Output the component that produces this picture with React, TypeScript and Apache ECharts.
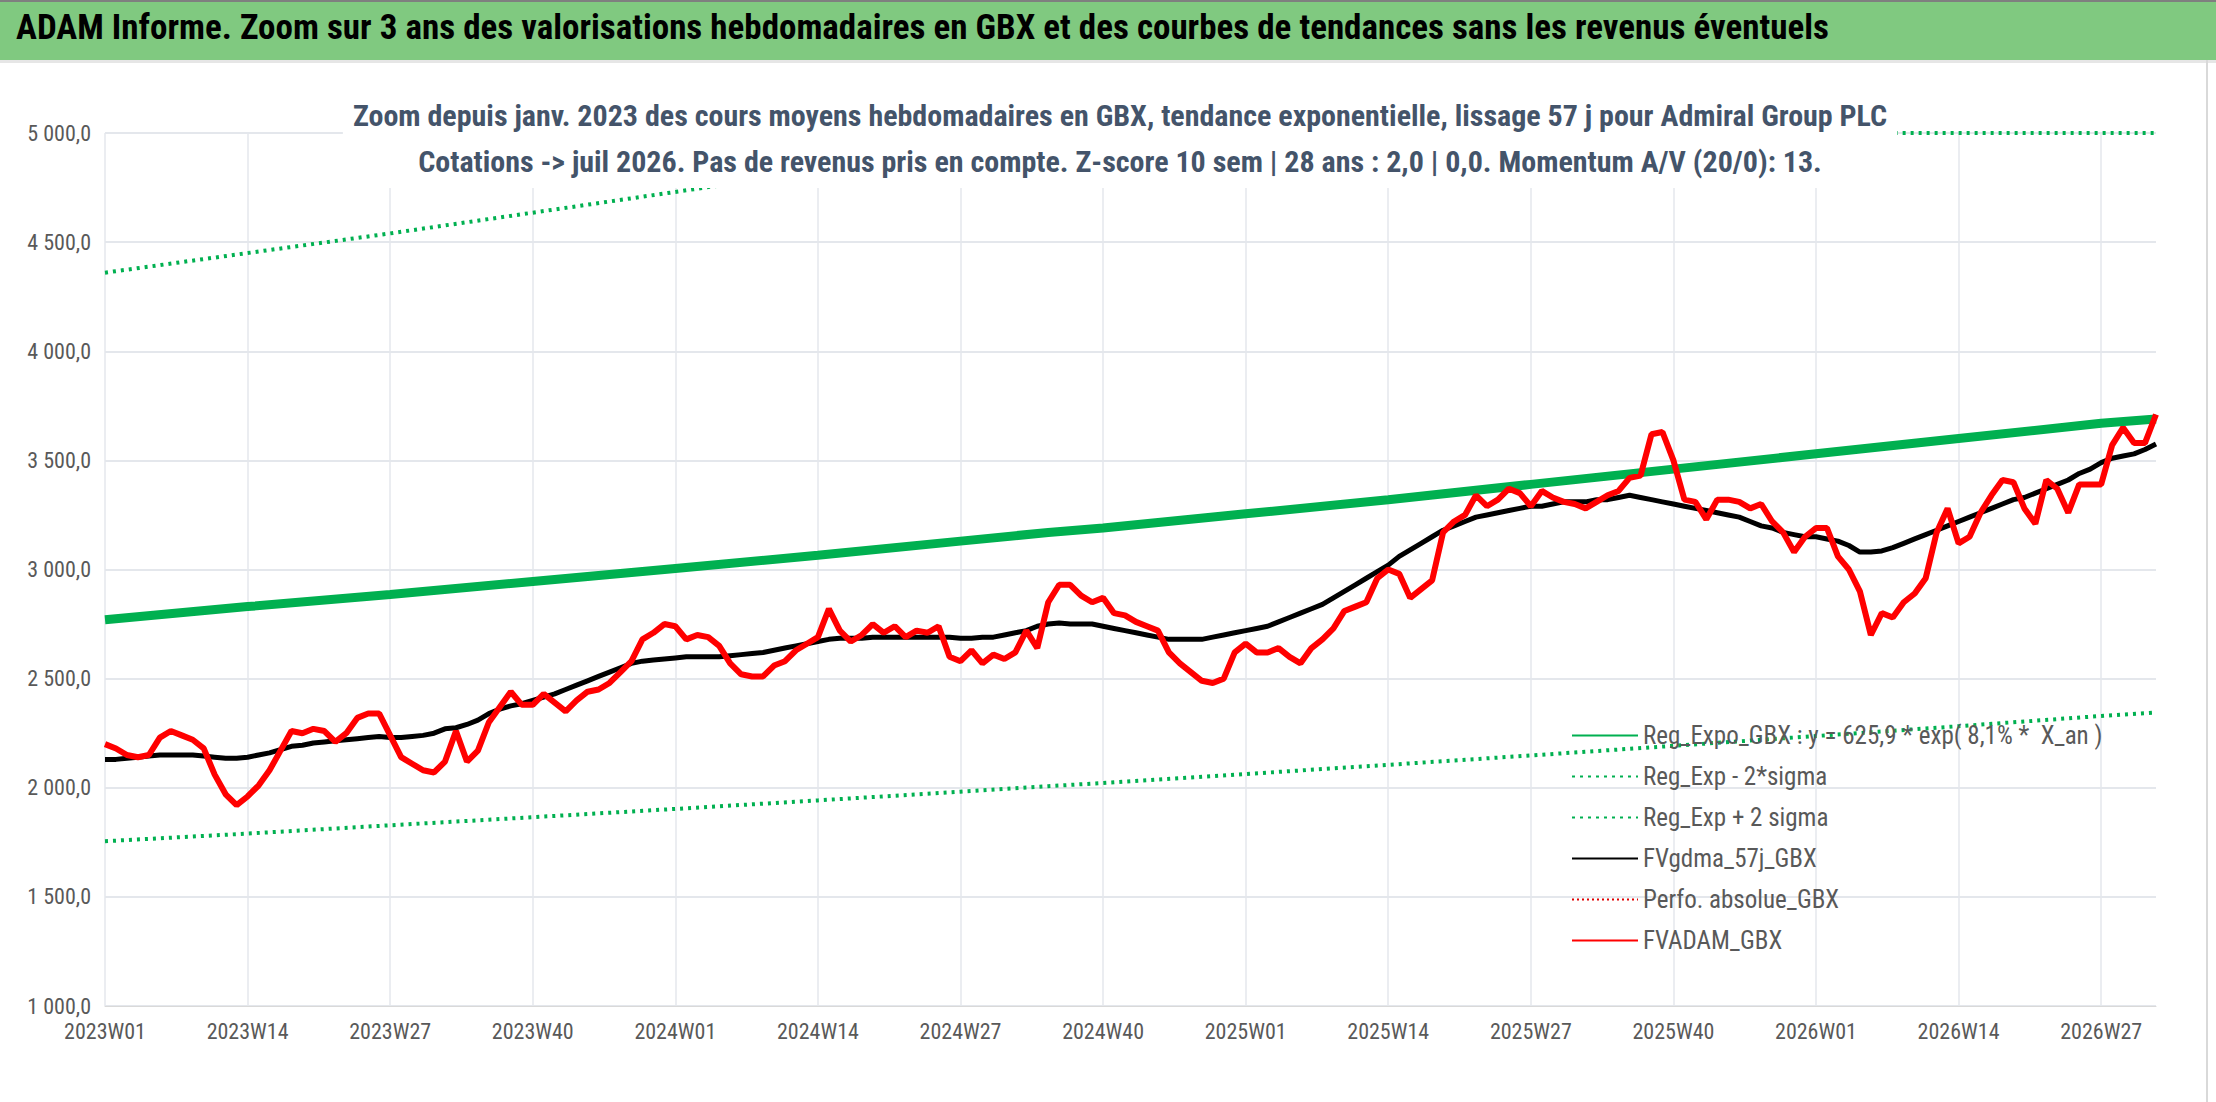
import React, { useEffect, useRef } from "react";
import * as echarts from "echarts";

const FONT = '"Liberation Sans Narrow", "Roboto Condensed", "Liberation Sans", sans-serif';

// weekly categories 2023W01 .. 2026W32
const weeks: string[] = [];
for (const [yr, n] of [[2023, 52], [2024, 52], [2025, 52], [2026, 32]] as const) {
  for (let w = 1; w <= n; w++) weeks.push(`${yr}W${String(w).padStart(2, "0")}`);
}

const adam = [
  2200, 2180, 2150, 2140, 2150, 2230, 2260, 2240, 2220, 2180,
  2060, 1970, 1920, 1960, 2010, 2080, 2170, 2260, 2250, 2270,
  2260, 2210, 2250, 2320, 2340, 2340, 2240, 2140, 2110, 2080,
  2070, 2120, 2260, 2120, 2170, 2300, 2370, 2440, 2380, 2380,
  2430, 2390, 2350, 2400, 2440, 2450, 2480, 2530, 2580, 2680,
  2710, 2750, 2740, 2680, 2700, 2690, 2650, 2570, 2520, 2510,
  2510, 2560, 2580, 2630, 2660, 2690, 2820, 2720, 2670, 2700,
  2750, 2710, 2740, 2690, 2720, 2710, 2740, 2600, 2580, 2630,
  2570, 2610, 2590, 2620, 2720, 2640, 2850, 2930, 2930, 2880,
  2850, 2870, 2800, 2790, 2760, 2740, 2720, 2620, 2570, 2530,
  2490, 2480, 2500, 2620, 2660, 2620, 2620, 2640, 2600, 2570,
  2640, 2680, 2730, 2810, 2830, 2850, 2960, 3000, 2980, 2870,
  2910, 2950, 3170, 3220, 3250, 3340, 3290, 3320, 3370, 3350,
  3290, 3360, 3330, 3310, 3300, 3280, 3310, 3340, 3360, 3420,
  3430, 3620, 3630, 3500, 3320, 3310, 3230, 3320, 3320, 3310,
  3280, 3300, 3220, 3170, 3080, 3150, 3190, 3190, 3060, 3000,
  2900, 2700, 2800, 2780, 2850, 2890, 2960, 3170, 3280, 3120,
  3150, 3260, 3340, 3410, 3400, 3280, 3210, 3410, 3370, 3260,
  3390, 3390, 3390, 3570, 3650, 3580, 3580, 3710,
];

const gdma = [
  2130, 2130, 2135, 2140, 2145, 2150, 2150, 2150, 2150, 2145,
  2140, 2135, 2135, 2140, 2150, 2160, 2175, 2190, 2195, 2205,
  2210, 2215, 2220, 2225, 2230, 2235, 2230, 2230, 2235, 2240,
  2250, 2270, 2275, 2290, 2310, 2340, 2360, 2375, 2385, 2400,
  2415, 2430, 2450, 2470, 2490, 2510, 2530, 2550, 2570, 2580,
  2585, 2590, 2595, 2600, 2600, 2600, 2600, 2605, 2610, 2615,
  2620, 2630, 2640, 2650, 2660, 2670, 2680, 2685, 2685, 2685,
  2690, 2690, 2690, 2690, 2690, 2690, 2690, 2690, 2685, 2685,
  2690, 2690, 2700, 2710, 2720, 2740, 2750, 2755, 2750, 2750,
  2750, 2740, 2730, 2720, 2710, 2700, 2690, 2680, 2680, 2680,
  2680, 2690, 2700, 2710, 2720, 2730, 2740, 2760, 2780, 2800,
  2820, 2840, 2870, 2900, 2930, 2960, 2990, 3020, 3060, 3090,
  3120, 3150, 3180, 3200, 3220, 3240, 3250, 3260, 3270, 3280,
  3290, 3290, 3300, 3310, 3310, 3310, 3320, 3320, 3330, 3340,
  3330, 3320, 3310, 3300, 3290, 3280, 3270, 3260, 3250, 3240,
  3220, 3200, 3190, 3170, 3160, 3150, 3150, 3140, 3130, 3110,
  3080, 3080, 3085, 3100, 3120, 3140, 3160, 3180, 3200, 3220,
  3240, 3260, 3280, 3300, 3320, 3330, 3350, 3370, 3390, 3410,
  3440, 3460, 3490, 3510, 3520, 3530, 3550, 3575,
];

// trend lines: values at a few week indices, joined by straight segments
const trendIdx = [0, 13, 26, 39, 52, 65, 78, 86, 91, 104, 117, 130, 143, 156, 169, 182, 187];
const regExpo = [2770, 2830, 2885, 2945, 3005, 3065, 3130, 3170, 3190, 3255, 3320, 3390, 3460, 3530, 3600, 3670, 3690];
const regLow = [1755, 1790, 1828, 1865, 1903, 1942, 1982, 2007, 2022, 2063, 2105, 2148, 2192, 2237, 2282, 2329, 2345];
const regHigh = [4360, 4450, 4540, 4635, 4730, 4825, 4925, 5000, 5000, 5000, 5000, 5000, 5000, 5000, 5000, 5000, 5000];

const sparse = (vals: number[]) => {
  const out: (number | null)[] = weeks.map(() => null);
  trendIdx.forEach((i, k) => (out[i] = vals[k]));
  return out;
};

const fmt = (v: number) => {
  const s = Math.round(v).toString().replace(/\B(?=(\d{3})+(?!\d))/g, " ");
  return `${s},0`;
};

const App: React.FC = () => {
  const ref = useRef<HTMLDivElement>(null);

  useEffect(() => {
    document.body.style.margin = "0";
    if (!ref.current) return;
    const chart = echarts.init(ref.current, undefined, { renderer: "svg" });
    const GREEN = "#00B050";
    chart.setOption({
      animation: false,
      backgroundColor: "#fff",
      textStyle: { fontFamily: FONT },
      graphic: [
        { type: "rect", left: 0, top: 0, shape: { width: 2216, height: 60 }, style: { fill: "#80C980" }, z: 0 },
        { type: "rect", left: 0, top: 0, shape: { width: 2216, height: 2 }, style: { fill: "#7F7F7F" }, z: 1 },
        { type: "rect", left: 0, top: 60, shape: { width: 2216, height: 3 }, style: { fill: "#E6E6E6" }, z: 1 },
        { type: "rect", left: 2206, top: 60, shape: { width: 2, height: 1042 }, style: { fill: "#D9D9D9" }, z: 1 },
        {
          type: "text", left: 16, top: 10, z: 2,
          style: {
            text: "ADAM Informe. Zoom sur 3 ans des valorisations hebdomadaires en GBX et des courbes de tendances sans les revenus éventuels",
            font: `bold 35px ${FONT}`, fill: "#000",
          },
        },
      ],
      title: {
        text: "Zoom depuis janv. 2023 des cours moyens hebdomadaires en GBX, tendance exponentielle, lissage 57 j pour Admiral Group PLC\nCotations -> juil 2026. Pas de revenus pris en compte. Z-score 10 sem | 28 ans : 2,0 | 0,0. Momentum A/V (20/0): 13.",
        left: 1110, top: 88, textAlign: "center",
        backgroundColor: "#fff", padding: [4, 10],
        textStyle: { fontFamily: FONT, fontSize: 30, fontWeight: "bold", color: "#44546A", lineHeight: 46 },
      },
      legend: {
        orient: "vertical", left: 1566, top: 718, itemGap: 16, itemWidth: 66, itemHeight: 28,
        itemStyle: { opacity: 0 },
        textStyle: { fontFamily: FONT, fontSize: 25, color: "#595959" },
        data: ["Reg_Expo_GBX : y = 625,9 * exp( 8,1% *  X_an )", "Reg_Exp - 2*sigma", "Reg_Exp + 2 sigma", "FVgdma_57j_GBX", "Perfo. absolue_GBX", "FVADAM_GBX"],
      },
      grid: { left: 105, right: 60, top: 133, bottom: 96 },
      xAxis: {
        type: "category", data: weeks, boundaryGap: false,
        axisLine: { lineStyle: { color: "#D9D9D9" } },
        axisTick: { show: false },
        axisLabel: { interval: 12, color: "#595959", fontSize: 22, fontFamily: FONT, margin: 14 },
        splitLine: { show: true, interval: 12, lineStyle: { color: "#E4E7EC", width: 1.5 } },
      },
      yAxis: {
        type: "value", min: 1000, max: 5000, interval: 500,
        axisLabel: { color: "#595959", fontSize: 22, fontFamily: FONT, formatter: fmt, margin: 14 },
        splitLine: { lineStyle: { color: "#E4E7EC", width: 2 } },
      },
      series: [
        { name: "Reg_Expo_GBX : y = 625,9 * exp( 8,1% *  X_an )", type: "line", data: sparse(regExpo), connectNulls: true, symbol: "none", lineStyle: { color: GREEN, width: 9 }, itemStyle: { color: GREEN } },
        { name: "Reg_Exp - 2*sigma", type: "line", data: sparse(regLow), connectNulls: true, symbol: "none", lineStyle: { color: GREEN, width: 4, type: [3, 5] }, itemStyle: { color: GREEN } },
        { name: "Reg_Exp + 2 sigma", type: "line", data: sparse(regHigh), connectNulls: true, symbol: "none", lineStyle: { color: GREEN, width: 4, type: [3, 5] }, itemStyle: { color: GREEN } },
        { name: "FVgdma_57j_GBX", type: "line", data: gdma, symbol: "none", lineStyle: { color: "#000", width: 5 }, itemStyle: { color: "#000" } },
        { name: "Perfo. absolue_GBX", type: "line", data: [], symbol: "none", lineStyle: { color: "#E00000", width: 3, type: [2, 3] }, itemStyle: { color: "#E00000" } },
        { name: "FVADAM_GBX", type: "line", data: adam, symbol: "none", lineStyle: { color: "#FF0000", width: 6 }, itemStyle: { color: "#FF0000" } },
      ],
    });
    return () => chart.dispose();
  }, []);

  return <div ref={ref} style={{ width: 2216, height: 1102 }} />;
};

export default App;
